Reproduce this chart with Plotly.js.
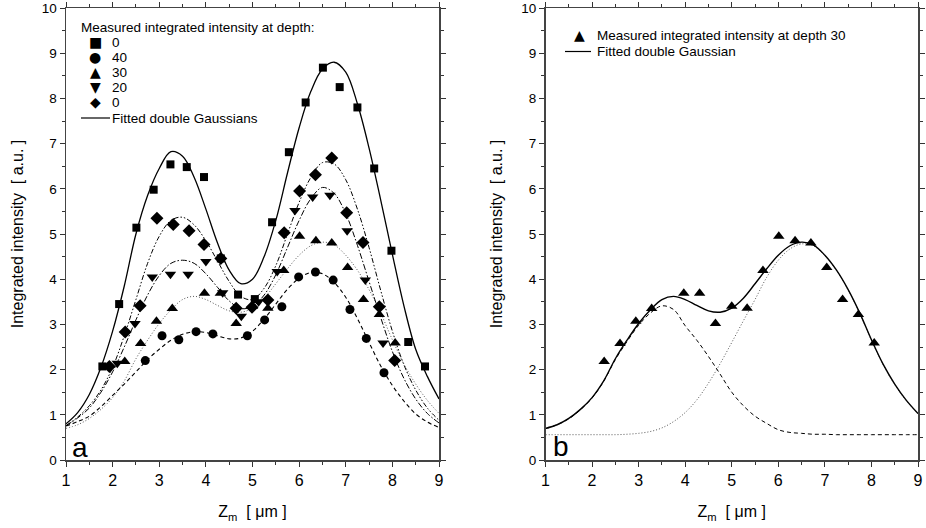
<!DOCTYPE html>
<html>
<head>
<meta charset="utf-8">
<script src="https://cdn.plot.ly/plotly-3.0.1.min.js"></script>
<style>html,body{margin:0;padding:0;background:#fff;}#chart{width:926px;height:528px;}</style>
</head>
<body>
<div id="chart"></div>
<script>
// ---------- data ----------
const squareX = [1.78,2.14,2.51,2.88,3.24,3.59,3.96,4.32,4.69,5.05,5.42,5.78,6.14,6.51,6.87,7.25,7.61,7.98,8.34,8.70];
const squareY = [2.07,3.45,5.14,5.98,6.54,6.48,6.26,4.46,3.66,3.56,5.26,6.81,7.91,8.68,8.25,7.80,6.45,4.63,2.61,2.07];

const circleX = [2.70,3.06,3.42,3.79,4.15,4.89,5.26,5.63,5.99,6.35,6.73,7.09,7.44,7.82];
const circleY = [2.20,2.75,2.66,2.84,2.79,2.75,3.10,3.39,4.05,4.16,3.98,3.33,2.69,1.93];

const triUpX = [2.26,2.60,2.94,3.28,3.97,4.31,4.65,5.00,5.33,5.67,6.01,6.36,6.70,7.04,7.38,7.72,8.06];
const triUpY = [2.18,2.58,3.07,3.35,3.69,3.69,3.02,3.40,3.36,4.19,4.95,4.85,4.80,4.26,3.55,3.22,2.59];

const triDownX = [2.10,2.48,2.85,3.24,3.62,4.00,4.36,4.76,5.13,5.53,5.91,6.29,6.66,7.03,7.42,7.80];
const triDownY = [2.14,3.02,4.05,4.11,4.11,4.39,3.70,3.18,3.50,4.17,5.52,5.82,5.86,5.07,3.98,2.59];

const diamondX = [1.93,2.27,2.59,2.95,3.30,3.64,3.96,4.32,4.65,4.99,5.33,5.68,6.01,6.35,6.70,7.02,7.37,7.72,8.05];
const diamondY = [2.07,2.83,3.41,5.35,5.21,5.07,4.77,4.46,3.36,3.38,3.54,5.03,5.95,6.31,6.68,5.47,4.81,3.39,2.20];

// fitted curves at these Zm positions
const fitX = [1,1.25,1.5,1.75,2,2.25,2.5,2.75,3,3.25,3.5,3.75,4,4.25,4.5,4.75,5,
              5.25,5.5,5.75,6,6.25,6.5,6.75,7,7.25,7.5,7.75,8,8.25,8.5,8.75,9];
const fitSquare  = [0.80,1.05,1.45,2.05,2.85,3.85,5.00,5.85,6.45,6.82,6.72,6.25,5.55,4.80,4.20,3.90,4.00,
                    4.50,5.30,6.35,7.35,8.15,8.65,8.80,8.58,7.88,6.90,5.75,4.55,3.40,2.45,1.85,1.35];
const fitDiamond = [0.76,0.95,1.20,1.55,2.05,2.75,3.55,4.35,4.95,5.30,5.37,5.20,4.85,4.40,3.95,3.62,3.55,
                    3.80,4.30,5.00,5.70,6.25,6.58,6.55,6.20,5.55,4.70,3.75,2.85,2.10,1.55,1.15,0.88];
const fitTriDown = [0.76,0.93,1.15,1.50,1.95,2.50,3.10,3.65,4.08,4.35,4.42,4.35,4.12,3.82,3.52,3.35,3.40,
                    3.65,4.10,4.70,5.30,5.78,6.03,5.90,5.45,4.75,3.95,3.15,2.40,1.80,1.35,1.03,0.82];
const fitTriUp   = [0.70,0.78,0.92,1.12,1.38,1.75,2.24,2.65,3.02,3.32,3.55,3.62,3.55,3.42,3.30,3.27,3.36,
                    3.58,3.90,4.23,4.53,4.74,4.82,4.76,4.53,4.20,3.77,3.25,2.66,2.12,1.68,1.32,1.03];
const fitCircle  = [0.75,0.85,0.97,1.18,1.43,1.68,1.95,2.22,2.45,2.65,2.78,2.84,2.82,2.75,2.68,2.70,2.85,
                    3.12,3.45,3.78,4.02,4.15,4.12,3.93,3.60,3.13,2.60,2.08,1.65,1.30,1.02,0.84,0.72];
// panel b: the two Gaussian components of the depth-30 fit
const compLeft   = [0.69,0.78,0.91,1.11,1.37,1.74,2.22,2.62,2.98,3.25,3.41,3.33,2.97,2.65,2.29,1.90,1.50,
                    1.20,0.97,0.81,0.67,0.61,0.59,0.57,0.57,0.56,0.56,0.56,0.56,0.56,0.56,0.56,0.56];
const compRight  = [0.56,0.56,0.56,0.56,0.56,0.56,0.56,0.57,0.59,0.63,0.71,0.85,1.05,1.33,1.70,2.13,2.60,
                    3.08,3.55,4.04,4.42,4.67,4.78,4.74,4.52,4.19,3.76,3.24,2.65,2.11,1.67,1.31,1.02];

// legend texts
const legendTitleA = "Measured integrated intensity at depth:";
const depthLabels  = ["0","40","30","20","0"];
const depthSymbols = ["\u25A0","\u25CF","\u25B2","\u25BC","\u25C6"];
const fitLabelA    = "Fitted double Gaussians";
const measLabelB   = "Measured integrated intensity at depth 30";
const fitLabelB    = "Fitted double Gaussian";

// ---------- figure ----------
const W = 926, H = 528, ML = 66, MR = 8, MT = 8, MB = 68;
const PW = W - ML - MR, PH = H - MT - MB;
const px = v => (v - ML) / PW;           // pixel -> paper x
const py = v => 1 - (v - MT) / PH;       // pixel -> paper y

const FONT = "Arial, 'Liberation Sans', sans-serif";
const blk = "#000";
const DASH = "4px,3px", DOT = "1px,2px", DASHDOT = "6px,2px,1.5px,2px", DASHDOTDOT = "5px,2px,1.5px,2px,1.5px,2px";

function markers(x, y, sym, size, xa, ya) {
  return {x, y, type: "scatter", mode: "markers", xaxis: xa, yaxis: ya, showlegend: false,
          marker: {symbol: sym, size: size, color: blk, line: {width: 0}}};
}
function curve(y, dash, color, width, xa, ya) {
  return {x: fitX, y, type: "scatter", mode: "lines", xaxis: xa, yaxis: ya, showlegend: false,
          hoverinfo: "skip", line: {shape: "spline", smoothing: 1, dash: dash, color: color, width: width}};
}

const traces = [
  curve(fitSquare, "solid", blk, 1.3, "x", "y"),
  curve(fitDiamond, DASHDOTDOT, blk, 1, "x", "y"),
  curve(fitTriDown, DASHDOT, blk, 1, "x", "y"),
  curve(fitTriUp, DOT, "#555", 1, "x", "y"),
  curve(fitCircle, DASH, blk, 1.1, "x", "y"),
  markers(squareX, squareY, "square", 8, "x", "y"),
  markers(circleX, circleY, "circle", 9, "x", "y"),
  markers(triUpX, triUpY, "triangle-up", 10, "x", "y"),
  markers(triDownX, triDownY, "triangle-down", 10, "x", "y"),
  markers(diamondX, diamondY, "diamond", 10, "x", "y"),
  curve(compLeft, DASH, blk, 1, "x2", "y2"),
  curve(compRight, DOT, "#555", 1, "x2", "y2"),
  curve(fitTriUp, "solid", blk, 1.4, "x2", "y2"),
  markers(triUpX, triUpY, "triangle-up", 10, "x2", "y2")
];

function xAxis(domain, anchor) {
  return {domain, anchor, range: [1, 9], tick0: 1, dtick: 1, ticks: "outside", ticklen: 5, tickwidth: 1,
          tickcolor: "#333", showline: true, linecolor: "#444", linewidth: 1.5, mirror: "ticks",
          showgrid: false, zeroline: false, ticklabeloverflow: "allow",
          tickfont: {family: FONT, size: 16, color: blk},
          minor: {dtick: 0.5, ticks: "outside", ticklen: 3, tickcolor: "#333", showgrid: false},
          title: {text: "Z<sub>m</sub>\u00a0 [ \u03BCm ]", font: {family: FONT, size: 16, color: blk}, standoff: 18}};
}
function yAxis(anchor) {
  return {domain: [0, 1], anchor, range: [0, 10], tick0: 0, dtick: 1, ticks: "outside", ticklen: 5, tickwidth: 1,
          tickcolor: "#333", showline: true, linecolor: "#444", linewidth: 1.5, mirror: "ticks",
          showgrid: false, zeroline: false, ticklabeloverflow: "allow",
          tickfont: {family: FONT, size: 13.5, color: blk},
          minor: {dtick: 0.5, ticks: "outside", ticklen: 3, tickcolor: "#333", showgrid: false},
          title: {text: "Integrated intensity\u00a0 [ a.u. ]", font: {family: FONT, size: 16, color: blk}, standoff: 14}};
}

const annotations = [];
const shapes = [];
function txt(text, x, y, size, family, anchor) {
  annotations.push({text, x, y, xref: "paper", yref: "paper", xanchor: anchor || "left", yanchor: "middle",
                    showarrow: false, font: {family: family || FONT, size: size, color: blk}, borderpad: 0});
}
// legend panel a
txt(legendTitleA, px(80), py(27), 13.5);
depthLabels.forEach((lab, i) => {
  const yy = 42 + 15 * i;
  txt(depthSymbols[i], px(95), py(yy), 14, "'DejaVu Sans'", "center");
  txt(lab, px(111), py(yy), 13.5);
});
shapes.push({type: "line", xref: "paper", yref: "paper", x0: px(81), x1: px(110), y0: py(118), y1: py(118),
             line: {color: blk, width: 1.2}});
txt(fitLabelA, px(111), py(118), 13.5);
// legend panel b
txt("\u25B2", px(579), py(35), 14, "'DejaVu Sans'", "center");
txt(measLabelB, px(596), py(35), 13.5);
shapes.push({type: "line", xref: "paper", yref: "paper", x0: px(565), x1: px(591), y0: py(51.5), y1: py(51.5),
             line: {color: blk, width: 1.2}});
txt(fitLabelB, px(596), py(51.5), 13.5);
// panel letters
txt("a", px(71), py(447), 28);
txt("b", px(552), py(446), 28);

const layout = {
  width: W, height: H, margin: {l: ML, r: MR, t: MT, b: MB},
  paper_bgcolor: "#fff", plot_bgcolor: "#fff", showlegend: false,
  font: {family: FONT, color: blk},
  xaxis: xAxis([0, (439 - ML) / PW], "y"),
  yaxis: yAxis("x"),
  xaxis2: xAxis([(545.5 - ML) / PW, 1], "y2"),
  yaxis2: yAxis("x2"),
  annotations, shapes
};

Plotly.newPlot("chart", traces, layout, {displayModeBar: false, staticPlot: true});
</script>
</body>
</html>
